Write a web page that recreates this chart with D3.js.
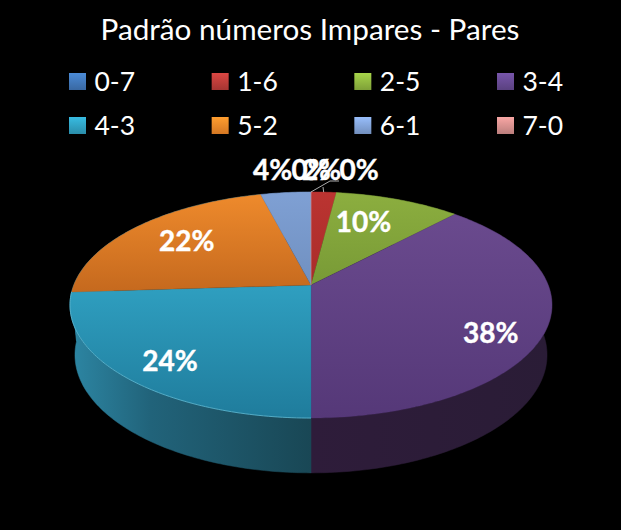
<!DOCTYPE html>
<html lang="en">
<head>
	<meta charset="UTF-8">
	<title>Padrão números Impares - Pares</title>
	<script src="https://d3js.org/d3.v7.min.js"></script>
	<style>
		body { margin: 0; background: #000; }
		text { font-family: Lato, "Open Sans", sans-serif; fill: #fff; }
	</style>
</head>
<body>
	<div class="chart"></div>
	<script type="text/javascript">
		var titleText = 'Padrão números Impares - Pares';
		var categories = ['0-7','1-6','2-5','3-4','4-3','5-2','6-1','7-0'];
		var values = [0,2,10,38,24,22,4,0];
		var labels = ['0%','2%','10%','38%','24%','22%','4%','0%'];

		var width = 621, height = 530;
		var legendColors = ['#3f74b4','#b83b38','#8cb23e','#64488f','#2f9dbd','#ec8427','#7f9fd2','#d08c8a'];
		var faceTop = ['#4a7ebb','#bb3431','#8cae3f','#6a4a8e','#2f9fc0','#ee8a2c','#7fa0d4','#d99694'];
		var faceBottom = ['#4a7ebb','#a92c2a','#789a36','#553878','#1f7c9c','#c5691e','#7090c0','#d99694'];
		var wallLeft = ['#2d4f7a','#5e1c1a','#4a5e20','#2e1c3a','#2c84a1','#2c84a1','#465d80','#7a5150'];
		var wallRight = ['#2d4f7a','#5e1c1a','#4a5e20','#2a1c36','#194755','#2c84a1','#465d80','#7a5150'];

		// shift of each data label from its anchor point on the pie
		var labelShift = [[48,-22],[-2,-22],[-11,-1],[18,18],[-16,14],[1,-2],[-13,-23],[0,-22]];

		var svg = d3.select('.chart').append('svg')
			.attr('width',width).attr('height',height)
			.style('display','block').style('background','#000');
		var defs = svg.append('defs');

		// the pie is tilted with perspective: apex is above the centre of the ellipse
		var k = 0.177;
		function projector(cx, cy, a, b) {
			return function(t, r) {
				var u = r * Math.sin(t), v = -r * Math.cos(t), w = 1 - k * v;
				return [cx + a * u / w, cy + b * v / w];
			};
		}
		var topDisk = projector(311, 285, 237.2, 109.5);
		var lowDisk = projector(311, 334, 232.3, 114.3);

		function samples(d) {
			var n = Math.max(2, Math.ceil((d.endAngle - d.startAngle) * 60));
			return d3.range(n + 1).map(function(i) {
				return d.startAngle + (d.endAngle - d.startAngle) * i / n;
			});
		}
		var line = d3.line();

		var pieData = d3.pie().sort(null).value(function(d) { return d; })(values);

		function grad(id, c1, c2) {
			var g = defs.append('linearGradient').attr('id',id)
				.attr('x1',0).attr('y1',0).attr('x2',0).attr('y2',1);
			g.append('stop').attr('offset',0).attr('stop-color',c1);
			g.append('stop').attr('offset',1).attr('stop-color',c2);
			return g;
		}

		pieData.forEach(function(d, i) {
			grad('face' + i, faceTop[i], faceBottom[i]);
			grad('swatch' + i, d3.color(legendColors[i]).brighter(0.5), d3.color(legendColors[i]).darker(0.3));
			grad('wall' + i, wallLeft[i], wallRight[i])
				.attr('gradientUnits','userSpaceOnUse')
				.attr('x1',75).attr('y1',0).attr('x2',311).attr('y2',0);
		});
		// purple wall runs from the middle to the right edge
		defs.select('#wall3').attr('x1',311).attr('x2',552);
		// teal wall loses most of its light in the first part
		defs.select('#wall4').insert('stop','stop:last-child')
			.attr('offset',0.32).attr('stop-color','#21637a');

		// walls first, the top face hides their back half
		svg.append('g').selectAll('path').data(pieData).enter().append('path')
			.attr('d',function(d) {
				var ts = samples(d);
				var up = ts.map(function(t) { return topDisk(t, 1); });
				var low = ts.slice().reverse().map(function(t) { return lowDisk(t, 1); });
				return line(up.concat(low)) + 'Z';
			})
			.attr('fill',function(d,i) { return 'url(#wall' + i + ')'; })
			.attr('stroke',function(d,i) { return 'url(#wall' + i + ')'; })
			.attr('stroke-width',0.5);

		svg.append('g').selectAll('path').data(pieData).enter().append('path')
			.attr('d',function(d) {
				var pts = samples(d).map(function(t) { return topDisk(t, 1); });
				return line([topDisk(0, 0)].concat(pts)) + 'Z';
			})
			.attr('fill',function(d,i) { return 'url(#face' + i + ')'; })
			.attr('stroke',function(d,i) { return faceBottom[i]; })
			.attr('stroke-width',0.3);

		// light rim on the front edge of the teal slice
		svg.append('path')
			.attr('d',line(samples(pieData[4]).map(function(t) { return topDisk(t, 1); })))
			.attr('fill','none').attr('stroke','#62bcd6').attr('stroke-width',0.8);

		// leader lines of the small slices
		svg.append('path')
			.attr('d',line([topDisk(pieData[0].startAngle, 1), [330,181], [339,181]]))
			.attr('fill','none').attr('stroke','#d9d9d9').attr('stroke-width',0.8);
		svg.append('path')
			.attr('d',line([topDisk((pieData[1].startAngle + pieData[1].endAngle) / 2, 1), [323,187]]))
			.attr('fill','none').attr('stroke','#d9d9d9').attr('stroke-width',0.8);

		var labelOrder = [6,0,7,1,2,3,4,5];
		svg.append('g').selectAll('text').data(labelOrder).enter().append('text')
			.attr('transform',function(i) {
				var d = pieData[i];
				var r = values[i] > 4 ? 0.7 : 1;
				var p = topDisk((d.startAngle + d.endAngle) / 2, r);
				return 'translate(' + (p[0] + labelShift[i][0]) + ',' + (p[1] + labelShift[i][1]) + ')';
			})
			.attr('text-anchor','middle')
			.attr('dy','0.36em')
			.attr('font-size',28)
			.attr('font-weight','bold')
			.style('stroke','#fff').style('stroke-width',0.4)
			.text(function(i) { return labels[i]; });

		svg.append('text')
			.attr('x',310).attr('y',40)
			.attr('text-anchor','middle')
			.attr('font-size',29.7)
			.text(titleText);

		var legendX = d3.scalePoint().domain([0,1,2,3]).range([69,497]);
		var legendY = d3.scalePoint().domain([0,1]).range([73,117]);
		var legend = svg.append('g').selectAll('g').data(categories).enter().append('g')
			.attr('transform',function(d,i) {
				return 'translate(' + legendX(i % 4) + ',' + legendY(Math.floor(i / 4)) + ')';
			});
		legend.append('rect')
			.attr('width',17).attr('height',17)
			.attr('fill',function(d,i) { return 'url(#swatch' + i + ')'; });
		legend.append('text')
			.attr('x',25.5).attr('y',17.5)
			.attr('font-size',26.5)
			.text(function(d) { return d; });
	</script>
</body>
</html>
